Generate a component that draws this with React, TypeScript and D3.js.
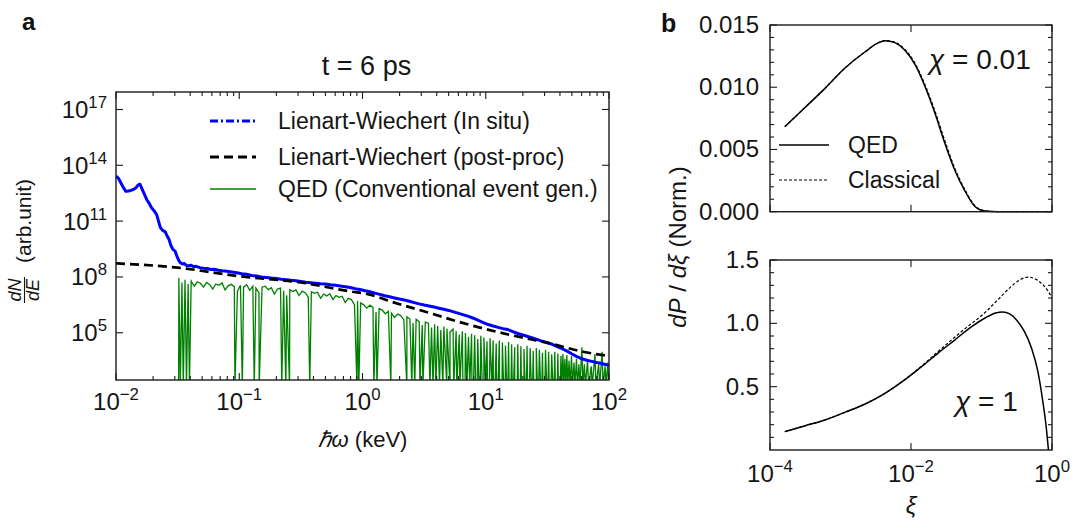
import React from 'react';
import * as d3 from 'd3';

const FONT = '"Liberation Sans", Arial, Helvetica, sans-serif';

// ---------- Panel a data (log10 E [keV], log10 dN/dE) ----------
const lwInSitu: [number, number][] = [
  [-2.0, 13.42], [-1.98, 13.3], [-1.96, 13.05], [-1.94, 12.8], [-1.92, 12.6], [-1.9, 12.62],
  [-1.88, 12.65], [-1.86, 12.7], [-1.84, 12.78], [-1.82, 12.95], [-1.805, 12.98], [-1.79, 12.75],
  [-1.77, 12.45], [-1.75, 12.15], [-1.73, 11.95], [-1.71, 11.7], [-1.69, 11.55], [-1.67, 11.35],
  [-1.655, 11.0], [-1.64, 10.65], [-1.62, 10.5], [-1.6, 10.42], [-1.585, 10.2], [-1.57, 10.02],
  [-1.555, 9.7], [-1.54, 9.5], [-1.52, 9.38], [-1.505, 9.1], [-1.49, 8.88], [-1.475, 8.75],
  [-1.46, 8.7], [-1.445, 8.72], [-1.43, 8.62], [-1.41, 8.6], [-1.39, 8.63], [-1.37, 8.55],
  [-1.35, 8.57], [-1.32, 8.5], [-1.29, 8.47], [-1.26, 8.45], [-1.23, 8.4], [-1.2, 8.41],
  [-1.17, 8.36], [-1.14, 8.33], [-1.1, 8.3], [-1.06, 8.26], [-1.02, 8.22], [-0.98, 8.17],
  [-0.94, 8.14], [-0.9, 8.08], [-0.86, 8.05], [-0.82, 8.0], [-0.78, 7.97], [-0.74, 7.94],
  [-0.7, 7.92], [-0.66, 7.88], [-0.62, 7.85], [-0.58, 7.82], [-0.54, 7.8], [-0.5, 7.76],
  [-0.46, 7.72], [-0.42, 7.69], [-0.38, 7.66], [-0.34, 7.63], [-0.3, 7.62], [-0.26, 7.58],
  [-0.22, 7.55], [-0.18, 7.51], [-0.14, 7.47], [-0.1, 7.43], [-0.06, 7.37], [-0.02, 7.32],
  [0.02, 7.26], [0.06, 7.2], [0.1, 7.13], [0.14, 7.06], [0.18, 6.99], [0.22, 6.93],
  [0.26, 6.87], [0.3, 6.81], [0.34, 6.76], [0.38, 6.69], [0.42, 6.62], [0.46, 6.55],
  [0.5, 6.49], [0.54, 6.44], [0.58, 6.38], [0.62, 6.32], [0.66, 6.26], [0.7, 6.2],
  [0.74, 6.12], [0.78, 6.04], [0.82, 5.96], [0.86, 5.88], [0.9, 5.78], [0.94, 5.66],
  [0.98, 5.55], [1.02, 5.44], [1.06, 5.36], [1.1, 5.29], [1.14, 5.22], [1.18, 5.17],
  [1.22, 5.06], [1.26, 4.96], [1.3, 4.88], [1.34, 4.8], [1.38, 4.72], [1.42, 4.63],
  [1.46, 4.54], [1.5, 4.46], [1.54, 4.38], [1.58, 4.26], [1.62, 4.14], [1.66, 4.01],
  [1.7, 3.86], [1.74, 3.72], [1.78, 3.6], [1.82, 3.52], [1.86, 3.46], [1.9, 3.4],
  [1.94, 3.35], [1.98, 3.28], [2.0, 3.26],
];

const lwPostProc: [number, number][] = [
  [-2.0, 8.73], [-1.5, 8.5], [-1.0, 8.04], [-0.5, 7.7], [-0.1, 7.22], [0.06, 7.05],
  [0.22, 6.7], [0.55, 6.05], [0.87, 5.42], [1.2, 4.88], [1.52, 4.43], [1.79, 3.98], [2.0, 3.75],
];

// QED spectrum: log10 N on a log10 E grid starting at qedStartLogE, step qedStepLogE
const qedStartLogE = -1.49;
const qedStepLogE = 0.025;
const qedLogN = [
  7.95, 7.7, 7.85, 7.62, 7.78, 7.5, 7.74, 7.66, 7.45, 7.7,
  7.58, 7.35, 7.62, 7.55, 7.68, 7.3, 7.52, 7.6, 7.48, 7.22,
  7.55, 7.45, 7.58, 7.28, 7.5, 7.4, 7.15, 7.45, 7.5, 7.32,
  7.42, 7.08, 7.35, 7.4, 7.25, 7.02, 7.32, 7.22, 7.3, 7.0,
  7.24, 7.15, 6.92, 7.2, 7.12, 7.18, 6.85, 7.08, 6.98, 7.1,
  6.78, 7.0, 6.9, 6.96, 6.62, 6.85, 6.78, 6.5, 6.7, 6.6,
  6.5, 6.32, 6.48, 6.36, 6.12, 6.3, 6.22, 6.02, 6.15, 6.05,
  5.82, 6.0, 5.92, 5.7, 5.86, 5.74, 5.52, 5.72, 5.6, 5.42,
  5.58, 5.5, 5.28, 5.46, 5.36, 5.15, 5.34, 5.22, 5.04, 5.2,
  5.1, 4.9, 5.08, 4.98, 4.78, 4.95, 4.86, 4.66, 4.84, 4.74,
  4.54, 4.7, 4.6, 4.42, 4.58, 4.48, 4.32, 4.5, 4.38, 4.22,
  4.38, 4.28, 4.12, 4.3, 4.18, 4.02, 4.18, 4.08, 3.92, 4.08,
  3.98, 3.84, 3.98, 3.88, 3.76,
];
// energies (log10 E) of empty bins where the QED spectrum drops to zero
const qedEmptyBins = [
  -1.478, -1.454, -1.428, -1.404, -1.035, -0.975, -0.878, -0.838, -0.655, -0.622,
  -0.592, -0.428, -0.045, -0.03, 0.092, 0.117, 0.23, 0.36, 0.4, 0.424,
  0.466, 0.49, 0.547, 0.572, 0.595, 0.625, 0.652, 0.684, 0.71, 0.74, 0.765,
  0.79, 0.815, 0.832, 0.847, 0.87, 0.888,
  0.9, 0.918, 0.93, 0.945, 0.955, 0.972, 0.985, 1.0, 1.015, 1.03, 1.05, 1.062, 1.075, 1.088,
  1.1, 1.112, 1.12, 1.132, 1.145, 1.158, 1.17, 1.18, 1.19, 1.205, 1.215, 1.225, 1.235,
  1.245, 1.255, 1.265, 1.28, 1.29, 1.3, 1.31, 1.32, 1.33,
  1.34, 1.355, 1.37, 1.38, 1.39, 1.4, 1.41, 1.42, 1.43, 1.445, 1.455, 1.465, 1.47,
  1.48, 1.495, 1.505, 1.515, 1.52, 1.53, 1.545, 1.555, 1.565, 1.57, 1.58, 1.59, 1.595, 1.605,
];
// sparse high-energy tail (0 = empty bin)
const qedTail: [number, number][] = [
  [1.618, 0], [1.626, 3.85], [1.634, 0], [1.642, 3.6], [1.65, 0], [1.658, 3.8], [1.666, 0],
  [1.676, 3.5], [1.684, 0], [1.696, 3.75], [1.704, 0], [1.716, 3.4], [1.724, 0],
  [1.736, 3.6], [1.744, 0], [1.756, 3.3], [1.764, 0], [1.78, 4.22], [1.788, 0],
  [1.8, 3.3], [1.808, 0], [1.826, 3.5], [1.834, 0], [1.856, 3.2], [1.864, 0],
  [1.886, 3.85], [1.894, 0], [1.916, 3.3], [1.924, 0], [1.944, 3.98], [1.952, 0],
  [1.968, 3.2], [1.976, 0], [1.99, 3.4], [1.998, 0],
];

const legendA = [
  { label: 'Lienart-Wiechert (In situ)', color: '#0000ff', dash: '8,3,2,3', width: 2.8 },
  { label: 'Lienart-Wiechert (post-proc)', color: '#000000', dash: '9,5', width: 2.8 },
  { label: 'QED (Conventional event gen.)', color: '#008000', dash: '', width: 1.3 },
];

const xTicksA = [-2, -1, 0, 1, 2];
const yTicksA = [5, 8, 11, 14, 17];

// ---------- Panel b data (log10 xi, dP/dxi) ----------
const qedChi001: [number, number][] = [
  [-3.79, 0.00683], [-3.5, 0.00839], [-3.22, 0.00991], [-2.94, 0.01152], [-2.65, 0.01285],
  [-2.46, 0.01358], [-2.37, 0.01374], [-2.23, 0.01358], [-2.09, 0.01299], [-1.94, 0.01179],
  [-1.8, 0.01004], [-1.66, 0.00791], [-1.52, 0.0055], [-1.38, 0.00335], [-1.23, 0.00161],
  [-1.09, 0.0004], [-0.95, 0.00005], [-0.76, 0], [0, 0],
];
const clsChi001: [number, number][] = [
  [-3.79, 0.00683], [-3.5, 0.00839], [-3.22, 0.00991], [-2.94, 0.01152], [-2.65, 0.01285],
  [-2.46, 0.01358], [-2.37, 0.01375], [-2.23, 0.01362], [-2.09, 0.01306], [-1.94, 0.01189],
  [-1.8, 0.01018], [-1.66, 0.00808], [-1.52, 0.0057], [-1.38, 0.0035], [-1.23, 0.00172],
  [-1.09, 0.00046], [-0.95, 0.00007], [-0.76, 0], [0, 0],
];
const qedChi1: [number, number][] = [
  [-3.79, 0.145], [-3.5, 0.192], [-3.22, 0.237], [-2.94, 0.297], [-2.65, 0.363],
  [-2.37, 0.447], [-2.09, 0.553], [-1.85, 0.658], [-1.62, 0.763], [-1.38, 0.868],
  [-1.14, 0.974], [-0.95, 1.042], [-0.8, 1.082], [-0.7, 1.09], [-0.6, 1.075],
  [-0.5, 1.025], [-0.39, 0.934], [-0.29, 0.803], [-0.2, 0.618], [-0.13, 0.382],
  [-0.08, 0.171], [-0.05, 0.0],
];
const clsChi1: [number, number][] = [
  [-3.79, 0.145], [-3.5, 0.192], [-3.22, 0.237], [-2.94, 0.297], [-2.65, 0.363],
  [-2.37, 0.447], [-2.09, 0.555], [-1.85, 0.662], [-1.62, 0.775], [-1.38, 0.89],
  [-1.24, 0.955], [-0.95, 1.085], [-0.77, 1.185], [-0.58, 1.29], [-0.45, 1.345],
  [-0.34, 1.365], [-0.22, 1.345], [-0.12, 1.3], [-0.05, 1.25], [0, 1.2],
];
const xTicksB = [-4, -2, 0];
const yTicksTop = [0, 0.005, 0.01, 0.015];
const yTicksBot = [0.5, 1.0, 1.5];

// ---------- geometry ----------
const A = { l: 116, r: 609, t: 92, b: 380 };
const BT = { l: 770, r: 1052, t: 25, b: 211.7 };
const BB = { l: 770, r: 1052, t: 260, b: 450 };

const xA = d3.scaleLog().domain([1e-2, 1e2]).range([A.l, A.r]);
const yA = d3.scaleLog().domain([10 ** 2.46, 10 ** 17.94]).range([A.b, A.t]);
const xB = d3.scaleLog().domain([1e-4, 1]).range([BT.l, BT.r]);
const yBT = d3.scaleLinear().domain([0, 0.015]).range([BT.b, BT.t]);
const yBB = d3.scaleLinear().domain([0, 1.5]).range([BB.b, BB.t]);

const MAJ = 7;
const MIN = 4;
const STROKE = '#1a1a1a';
const TXT = '#151515';

function Sup({ x, y, base, exp, anchor, size = 20 }: any) {
  return (
    <text x={x} y={y} textAnchor={anchor} fontFamily={FONT} fontSize={size} fill={TXT}>
      <tspan>{base}</tspan>
      <tspan dy={-size * 0.42} fontSize={size * 0.7}>{exp}</tspan>
    </text>
  );
}

function fmtExp(e: number) {
  return e < 0 ? '\u2212' + Math.abs(e) : String(e);
}

export default function App() {
  const lineA = d3
    .line<[number, number]>()
    .x((d) => xA(10 ** d[0]))
    .y((d) => (d[1] <= 0 ? A.b + 6 : yA(10 ** d[1])));
  const blueD = lineA(lwInSitu) || '';
  const blackD = lineA.curve(d3.curveMonotoneX)(lwPostProc) || '';
  lineA.curve(d3.curveLinear);

  const qedMain: [number, number][] = qedLogN.map((v, i) => [qedStartLogE + i * qedStepLogE, v]);
  const qedPts: [number, number][] = [
    [qedStartLogE - 0.002, 0],
    ...qedMain,
    ...qedEmptyBins.map((e) => [e, 0] as [number, number]),
    ...qedTail,
  ];
  qedPts.sort((a, b) => a[0] - b[0]);
  const greenD = lineA(qedPts) || '';

  const lineBT = d3.line<[number, number]>().x((d) => xB(10 ** d[0])).y((d) => yBT(d[1])).curve(d3.curveMonotoneX);
  const lineBB = d3.line<[number, number]>().x((d) => xB(10 ** d[0])).y((d) => yBB(d[1])).curve(d3.curveMonotoneX);

  const minorA: number[] = [];
  for (let d = -2; d < 2; d++) for (let k = 2; k <= 9; k++) minorA.push(k * 10 ** d);

  const ticksLines: any[] = [];
  xTicksA.forEach((e, i) => {
    const x = xA(10 ** e);
    ticksLines.push(<line key={'axM' + i} x1={x} x2={x} y1={A.b} y2={A.b - MAJ} />);
    ticksLines.push(<line key={'axMt' + i} x1={x} x2={x} y1={A.t} y2={A.t + MAJ} />);
  });
  minorA.forEach((v, i) => {
    const x = xA(v);
    ticksLines.push(<line key={'axm' + i} x1={x} x2={x} y1={A.b} y2={A.b - MIN} />);
    ticksLines.push(<line key={'axmt' + i} x1={x} x2={x} y1={A.t} y2={A.t + MIN} />);
  });
  yTicksA.forEach((e, i) => {
    const y = yA(10 ** e);
    ticksLines.push(<line key={'ay' + i} x1={A.l} x2={A.l + MAJ} y1={y} y2={y} />);
    ticksLines.push(<line key={'ayr' + i} x1={A.r} x2={A.r - MAJ} y1={y} y2={y} />);
  });
  [BT, BB].forEach((P, pi) => {
    xTicksB.forEach((e, i) => {
      const x = xB(10 ** e);
      ticksLines.push(<line key={`bx${pi}-${i}`} x1={x} x2={x} y1={P.b} y2={P.b - MAJ} />);
      ticksLines.push(<line key={`bxt${pi}-${i}`} x1={x} x2={x} y1={P.t} y2={P.t + MAJ} />);
    });
  });
  d3.range(0, 16).forEach((k) => {
    const y = yBT(k * 0.001);
    const len = k % 5 === 0 ? MAJ : MIN;
    ticksLines.push(<line key={'bty' + k} x1={BT.l} x2={BT.l + len} y1={y} y2={y} />);
    ticksLines.push(<line key={'btyr' + k} x1={BT.r} x2={BT.r - len} y1={y} y2={y} />);
  });
  d3.range(1, 16).forEach((k) => {
    const y = yBB(k * 0.1);
    const len = k % 5 === 0 ? MAJ : MIN;
    ticksLines.push(<line key={'bby' + k} x1={BB.l} x2={BB.l + len} y1={y} y2={y} />);
    ticksLines.push(<line key={'bbyr' + k} x1={BB.r} x2={BB.r - len} y1={y} y2={y} />);
  });

  return (
    <svg
      width={1084}
      height={522}
      viewBox="0 0 1084 522"
      style={{ position: 'absolute', left: 0, top: 0, background: '#fff' }}
      fontFamily={FONT}
    >
      <defs>
        <clipPath id="clipA">
          <rect x={A.l} y={A.t} width={A.r - A.l} height={A.b - A.t} />
        </clipPath>
        <clipPath id="clipBT">
          <rect x={BT.l} y={BT.t} width={BT.r - BT.l} height={BT.b - BT.t + 1} />
        </clipPath>
        <clipPath id="clipBB">
          <rect x={BB.l} y={BB.t} width={BB.r - BB.l} height={BB.b - BB.t + 1} />
        </clipPath>
      </defs>
      <rect x={0} y={0} width={1084} height={522} fill="#fff" />

      {/* ---------- panel a ---------- */}
      <text x={22} y={30} fontSize={24} fontWeight="bold" fill="#111">a</text>
      <text x={(A.l + A.r) / 2 + 4} y={75} fontSize={27} textAnchor="middle" fill={TXT}>t = 6 ps</text>

      <g clipPath="url(#clipA)">
        <path d={greenD} fill="none" stroke="#008000" strokeWidth={1.3} strokeLinejoin="miter" />
        <path d={blueD} fill="none" stroke="#0000ff" strokeWidth={3} strokeLinejoin="round" />
        <path d={blackD} fill="none" stroke="#000" strokeWidth={2.7} strokeDasharray="9,5" />
      </g>

      {legendA.map((it, i) => {
        const ly = [121, 157, 189][i];
        return (
          <g key={'lga' + i}>
            <line x1={210} x2={256} y1={ly} y2={ly} stroke={it.color} strokeWidth={it.width} strokeDasharray={it.dash || undefined} />
            <text x={278} y={ly + 8} fontSize={23} fill={TXT}>{it.label}</text>
          </g>
        );
      })}

      {xTicksA.map((e, i) => (
        <Sup key={'xla' + i} x={xA(10 ** e)} y={410} base="10" exp={fmtExp(e)} anchor="middle" size={24} />
      ))}
      {yTicksA.map((e, i) => (
        <Sup key={'yla' + i} x={A.l - 9} y={yA(10 ** e) + 8.5} base="10" exp={fmtExp(e)} anchor="end" size={24} />
      ))}
      <text x={(A.l + A.r) / 2} y={447} fontSize={22} textAnchor="middle" fill={TXT}>
        <tspan fontStyle="italic">ℏω</tspan> (keV)
      </text>
      <g transform="translate(24.5,303) rotate(-90)" fill={TXT}>
        <text x={13} y={-4} fontSize={18} fontStyle="italic" textAnchor="middle">dN</text>
        <line x1={0} x2={26} y1={0} y2={0} stroke={TXT} strokeWidth={1.1} />
        <text x={13} y={14} fontSize={18} fontStyle="italic" textAnchor="middle">dE</text>
        <text x={40} y={6.5} fontSize={21}>(arb.unit)</text>
      </g>

      {/* ---------- panel b ---------- */}
      <text x={661} y={32} fontSize={25} fontWeight="bold" fill="#111">b</text>

      <g clipPath="url(#clipBT)">
        <path d={lineBT(qedChi001) || ''} fill="none" stroke="#000" strokeWidth={1.5} />
        <path d={lineBT(clsChi001) || ''} fill="none" stroke="#000" strokeWidth={1.2} strokeDasharray="3,2" />
      </g>
      <g clipPath="url(#clipBB)">
        <path d={lineBB(qedChi1) || ''} fill="none" stroke="#000" strokeWidth={1.5} />
        <path d={lineBB(clsChi1) || ''} fill="none" stroke="#000" strokeWidth={1.2} strokeDasharray="3,2" />
      </g>

      <line x1={779} x2={829} y1={145} y2={145} stroke="#000" strokeWidth={1.5} />
      <text x={848} y={153} fontSize={23} fill={TXT}>QED</text>
      <line x1={779} x2={829} y1={180} y2={180} stroke="#000" strokeWidth={1.2} strokeDasharray="3,2" />
      <text x={848} y={188} fontSize={23} fill={TXT}>Classical</text>

      <text x={929} y={69} fontSize={28} fill={TXT}>
        <tspan fontStyle="italic">χ</tspan> = 0.01
      </text>
      <text x={955} y={411} fontSize={28} fill={TXT}>
        <tspan fontStyle="italic">χ</tspan> = 1
      </text>

      {yTicksTop.map((v, i) => (
        <text key={'ybt' + i} x={BT.l - 11} y={yBT(v) + 8} fontSize={24} textAnchor="end" fill={TXT}>
          {v.toFixed(3)}
        </text>
      ))}
      {yTicksBot.map((v, i) => (
        <text key={'ybb' + i} x={BB.l - 11} y={yBB(v) + 8} fontSize={24} textAnchor="end" fill={TXT}>
          {v.toFixed(1)}
        </text>
      ))}
      {xTicksB.map((e, i) => (
        <Sup key={'xlb' + i} x={xB(10 ** e)} y={482} base="10" exp={fmtExp(e)} anchor="middle" size={24} />
      ))}
      <text x={(BB.l + BB.r) / 2} y={514} fontSize={24} fontStyle="italic" textAnchor="middle" fill={TXT}>ξ</text>
      <text transform="translate(686,247) rotate(-90)" fontSize={24} textAnchor="middle" fill={TXT}>
        <tspan fontStyle="italic">dP</tspan> / <tspan fontStyle="italic">dξ</tspan> (Norm.)
      </text>

      <g stroke={STROKE} strokeWidth={1.1}>{ticksLines}</g>
      <rect x={A.l} y={A.t} width={A.r - A.l} height={A.b - A.t} fill="none" stroke={STROKE} strokeWidth={1.4} />
      <rect x={BT.l} y={BT.t} width={BT.r - BT.l} height={BT.b - BT.t} fill="none" stroke={STROKE} strokeWidth={1.4} />
      <rect x={BB.l} y={BB.t} width={BB.r - BB.l} height={BB.b - BB.t} fill="none" stroke={STROKE} strokeWidth={1.4} />
    </svg>
  );
}
